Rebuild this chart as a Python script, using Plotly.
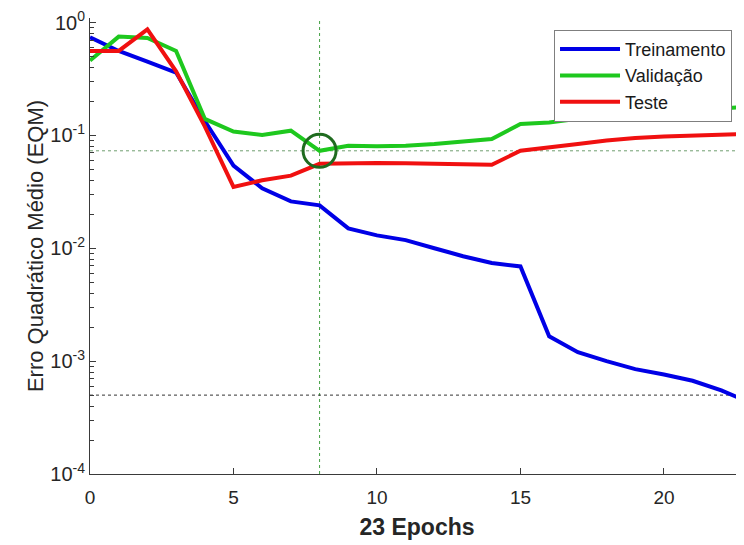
import plotly.graph_objects as go

epochs = list(range(0, 24))
train = [0.74, 0.56, 0.45, 0.36, 0.134, 0.054, 0.034, 0.026, 0.024, 0.015,
         0.013, 0.0118, 0.010, 0.0085, 0.0074, 0.0069, 0.00166, 0.0012, 0.0010,
         0.00085, 0.00076, 0.00067, 0.00055, 0.00043]
valid = [0.46, 0.75, 0.73, 0.56, 0.14, 0.108, 0.101, 0.11, 0.073, 0.081,
         0.080, 0.081, 0.084, 0.088, 0.093, 0.126, 0.13, 0.14, 0.146,
         0.152, 0.158, 0.165, 0.172, 0.18]
test = [0.56, 0.56, 0.87, 0.37, 0.12, 0.035, 0.040, 0.044, 0.056, 0.057,
        0.057, 0.0565, 0.056, 0.0555, 0.055, 0.073, 0.079, 0.084, 0.090,
        0.095, 0.098, 0.100, 0.101, 0.103]
best_epoch = 8
best_perf = 0.073
goal = 0.0005

y_tickvals = [1e-4, 1e-3, 1e-2, 1e-1, 1]
y_ticktext = ["10<sup>-4</sup>", "10<sup>-3</sup>", "10<sup>-2</sup>", "10<sup>-1</sup>", "10<sup>0</sup>"]
y_minor = [m * 10.0 ** e for e in range(-4, 0) for m in range(2, 10)]
x_tickvals = [0, 5, 10, 15, 20]

font_family = "Liberation Sans, Arial, sans-serif"
axis_color = "#3a3a3a"

fig = go.Figure()
fig.add_trace(go.Scatter(x=epochs, y=train, mode="lines", name="Treinamento",
                         line=dict(color="#0000e6", width=4)))
fig.add_trace(go.Scatter(x=epochs, y=valid, mode="lines", name="Validação",
                         line=dict(color="#1ec81e", width=4)))
fig.add_trace(go.Scatter(x=epochs, y=test, mode="lines", name="Teste",
                         line=dict(color="#f01010", width=4)))
fig.add_trace(go.Scatter(x=[best_epoch], y=[best_perf], mode="markers", showlegend=False,
                         marker=dict(symbol="circle-open", size=33,
                                     line=dict(color="#1f6b1f", width=3), color="#1f6b1f")))

fig.add_hline(y=best_perf, line=dict(color="#6f9f6f", width=1, dash="dot"), layer="below")
fig.add_vline(x=best_epoch, line=dict(color="#45a045", width=1, dash="dot"), layer="below")
fig.add_hline(y=goal, line=dict(color="#333333", width=1, dash="dot"), layer="below")

fig.update_layout(
    width=736, height=537,
    margin=dict(l=82, r=0, t=7, b=71),
    paper_bgcolor="white", plot_bgcolor="white",
    font=dict(family=font_family, size=19, color="#262626"),
    legend=dict(x=0.7095, y=0.974, xanchor="left", yanchor="top",
                bgcolor="white", bordercolor="#7f7f7f", borderwidth=1,
                font=dict(size=18, color="#1a1a1a"), itemwidth=60,
                tracegroupgap=0),
    xaxis=dict(range=[0, 22.79], tickvals=x_tickvals, ticks="inside", ticklen=6,
               tickcolor=axis_color, showline=True, linecolor=axis_color, linewidth=1,
               showgrid=False, zeroline=False, ticklabelstandoff=6,
               title=dict(text="<b>23 Epochs</b>", font=dict(size=23, color="#262626"), standoff=12)),
    yaxis=dict(type="log", range=[-4, 0.04], tickvals=y_tickvals, ticktext=y_ticktext,
               ticks="inside", ticklen=6, tickcolor=axis_color,
               tickfont=dict(size=20), ticklabeloverflow="allow",
               minor=dict(tickmode="array", tickvals=y_minor, ticks="inside", ticklen=4,
                          tickcolor=axis_color, showgrid=False),
               showline=True, linecolor=axis_color, linewidth=1,
               showgrid=False, zeroline=False,
               title=dict(text="Erro Quadrático Médio (EQM)", font=dict(size=22, color="#262626"), standoff=0)),
)

fig.write_html("out.html")
